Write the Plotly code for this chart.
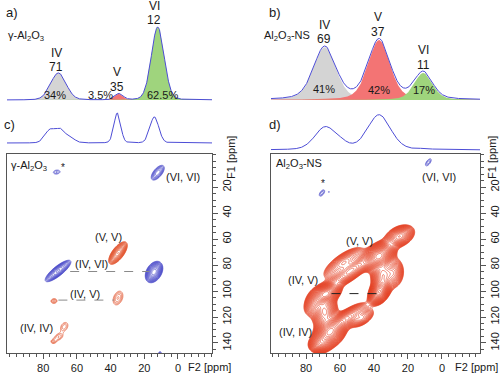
import numpy as np
import plotly.graph_objects as go

W, H = 500, 375
FONT = "Liberation Sans, Arial, sans-serif"

# ---------------- 1D spectra (peak centre ppm, height, sigma ppm, lorentz fraction)
a_sites = ["IV", "V", "VI"]
a_shift_labels = ["71", "35", "12"]
a_percent = ["34%", "3.5%", "62.5%"]
a_center = [71, 35, 12]
a_height = [0.37, 0.085, 1.0]
a_sigma = [4.6, 2.4, 3.8]
a_eta = [0.12, 0.12, 0.12]

b_sites = ["IV", "V", "VI"]
b_shift_labels = ["69", "37", "11"]
b_percent = ["41%", "42%", "17%"]
b_center = [69, 37, 11]
b_height = [0.88, 1.0, 0.45]
b_sigma = [6.6, 6.4, 5.4]
b_eta = [0.35, 0.35, 0.35]

# projections on top of the 2D maps
c_proj_center = [76, 69.5, 63, 36, 14]
c_proj_height = [0.42, 0.43, 0.12, 1.0, 0.87]
c_proj_sigma = [3.0, 3.0, 2.5, 2.0, 2.6]
d_proj_center = [69, 60, 37, 10]
d_proj_height = [0.62, 0.15, 1.0, 0.03]
d_proj_sigma = [6.0, 5.0, 6.8, 3.0]

# ---------------- 2D DQ-SQ peaks: F2, F1, sigma along, sigma across, slope (dF1/dF2), amplitude
c_pos_f2 = [12, 71.2, 14.2, 72, 11]
c_pos_f1 = [9, 84.6, 85.4, 8.5, 151]
c_pos_sa = [4.2, 5.6, 4.0, 2.4, 3.0]
c_pos_sp = [1.8, 1.7, 2.2, 1.8, 1.0]
c_pos_slope = [1.8, 1.1, 3.0, 0.3, 10]
c_pos_amp = [0.22, 0.45, 0.7, 0.1, 0.2]

c_neg_f2 = [35.6, 35.6, 73.6, 67.5, 71, 74]
c_neg_f1 = [70.8, 105.4, 107.7, 127.5, 135.5, 139]
c_neg_sa = [4.2, 4.6, 1.8, 3.6, 2.6, 1.5]
c_neg_sp = [1.6, 2.3, 1.7, 2.1, 2.0, 1.4]
c_neg_slope = [1.9, 4.0, 1.0, 3.0, 1.0, 1.0]
c_neg_amp = [1.0, 0.14, 0.12, 0.11, 0.11, 0.095]

# Al2O3-NS: correlation nodes, outer shoulders, ridges round the central hole
d_neg_f2 = [37, 68, 37, 66, 25, 72,
            75, 58, 28, 47,
            54, 35, 56, 69]
d_neg_f1 = [73, 102, 101, 132, 58, 141,
            108, 78, 86, 121,
            85, 88, 121, 116]
d_neg_sa = [5.5, 4.5, 4.5, 6.0, 5.0, 3.5,
            6.0, 8.0, 6.0, 5.0,
            9.0, 7.0, 8.0, 7.0]
d_neg_sp = [3.5, 3.0, 2.6, 3.8, 3.4, 3.2,
            3.0, 3.0, 3.0, 2.6,
            2.9, 3.4, 2.8, 3.7]
d_neg_slope = [1.5, 1.0, 3.0, 2.0, 1.0, 2.0,
               3.0, 1.0, 20, 1.0,
               1.0, 20, 1.0, 20]
d_neg_amp = [1.0, 0.85, 0.75, 0.95, 0.45, 0.35,
             0.25, 0.3, 0.25, 0.2,
             0.42, 0.38, 0.36, 0.42]

d_pos_f2 = [8, 70.6, 66.5]
d_pos_f1 = [1, 24.6, 23.8]
d_pos_sa = [2.8, 2.5, 0.6]
d_pos_sp = [1.1, 1.1, 0.6]
d_pos_slope = [2.0, 2.0, 1.0]
d_pos_amp = [0.18, 0.18, 0.12]

# connectors (F1 level, F2 from, F2 to)
c_links = [(85, 64, 17), (107, 71, 38)]
d_links = [(102, 65, 35)]

# axis ticks
f2_ticks = [0, 20, 40, 60, 80]
f1_ticks = [20, 40, 60, 80, 100, 120, 140]

# ---------------- styles
BLUE_LINE = "#4d4dd6"
BLUE_CT = "#3d3dc4"
RED_CT_C = "#e0502a"
RED_CT_D = "#e23a1c"
FILLS = ["#d4d4d4", "#f37474", "#9fd47d"]
TXT = "#1a1a1a"

XR_C = [101.5, -20.2]
XR_D = [100.6, -22.4]
YR_2D = [147.7, -5.4]


def pv(x, c, h, s, eta):
    hw = 1.1774 * s
    return h * ((1 - eta) * np.exp(-0.5 * ((x - c) / s) ** 2) + eta / (1 + ((x - c) / hw) ** 2))


def field(F2, F1, f2s, f1s, sas, sps, slopes, amps):
    Z = np.zeros_like(F2)
    for f2, f1, sa, sp, sl, am in zip(f2s, f1s, sas, sps, slopes, amps):
        d0, d1 = 1.0, sl
        n = np.hypot(d0, d1)
        d0, d1 = d0 / n, d1 / n
        u = (F2 - f2) * d0 + (F1 - f1) * d1
        v = -(F2 - f2) * d1 + (F1 - f1) * d0
        Z += am * np.exp(-0.5 * (u / sa) ** 2 - 0.5 * (v / sp) ** 2)
    return Z


def px(x):
    return x / W


def py(y):
    return 1 - y / H


fig = go.Figure()
xs = np.linspace(-23, 102, 1200)

# ---- panel a
tot = np.zeros_like(xs)
for i in range(3):
    comp = pv(xs, a_center[i], a_height[i], a_sigma[i], a_eta[i])
    tot += comp
    fig.add_trace(go.Scatter(x=xs, y=comp, xaxis="x", yaxis="y", mode="lines",
                             line=dict(width=0), fill="tozeroy", fillcolor=FILLS[i], hoverinfo="skip"))
fig.add_trace(go.Scatter(x=xs, y=tot, xaxis="x", yaxis="y", mode="lines",
                         line=dict(color=BLUE_LINE, width=1), hoverinfo="skip"))

# ---- panel b
tot = np.zeros_like(xs)
for i in range(3):
    comp = pv(xs, b_center[i], b_height[i], b_sigma[i], b_eta[i])
    tot += comp
    fig.add_trace(go.Scatter(x=xs, y=comp, xaxis="x2", yaxis="y2", mode="lines",
                             line=dict(width=0), fill="tozeroy", fillcolor=FILLS[i], hoverinfo="skip"))
fig.add_trace(go.Scatter(x=xs, y=tot, xaxis="x2", yaxis="y2", mode="lines",
                         line=dict(color=BLUE_LINE, width=1), hoverinfo="skip"))

# ---- projections
proj_c = sum(pv(xs, c, h, s, 0.1) for c, h, s in zip(c_proj_center, c_proj_height, c_proj_sigma))
fig.add_trace(go.Scatter(x=xs, y=proj_c, xaxis="x3", yaxis="y3", mode="lines",
                         line=dict(color=BLUE_LINE, width=1), hoverinfo="skip"))
proj_d = sum(pv(xs, c, h, s, 0.25) for c, h, s in zip(d_proj_center, d_proj_height, d_proj_sigma))
fig.add_trace(go.Scatter(x=xs, y=proj_d, xaxis="x4", yaxis="y4", mode="lines",
                         line=dict(color=BLUE_LINE, width=1), hoverinfo="skip"))

# ---- 2D maps
f2g = np.arange(-24, 104, 0.4)
f1g = np.arange(-8, 156, 0.4)
F2, F1 = np.meshgrid(f2g, f1g)


def add_contour(Z, xa, ya, color, thr, factor, width=0.6):
    Zl = np.round(np.log10(Z + 1e-9), 3)
    fig.add_trace(go.Contour(x=f2g, y=f1g, z=Zl, xaxis=xa, yaxis=ya,
                             contours=dict(start=np.log10(thr), end=0.2, size=np.log10(factor), coloring="none"),
                             line=dict(color=color, width=width), showscale=False, hoverinfo="skip"))


add_contour(field(F2, F1, c_pos_f2, c_pos_f1, c_pos_sa, c_pos_sp, c_pos_slope, c_pos_amp),
            "x5", "y5", BLUE_CT, 0.07, 1.18)
add_contour(field(F2, F1, c_neg_f2, c_neg_f1, c_neg_sa, c_neg_sp, c_neg_slope, c_neg_amp),
            "x5", "y5", RED_CT_C, 0.07, 1.18)
add_contour(field(F2, F1, d_neg_f2, d_neg_f1, d_neg_sa, d_neg_sp, d_neg_slope, d_neg_amp),
            "x6", "y6", RED_CT_D, 0.05, 1.1)
add_contour(field(F2, F1, d_pos_f2, d_pos_f1, d_pos_sa, d_pos_sp, d_pos_slope, d_pos_amp),
            "x6", "y6", BLUE_CT, 0.1, 1.25)

for f1, a, b in c_links:
    fig.add_trace(go.Scatter(x=[a, b], y=[f1, f1], xaxis="x5", yaxis="y5", mode="lines",
                             line=dict(color="#8a8a8a", width=1, dash="dash"), hoverinfo="skip"))
for f1, a, b in d_links:
    fig.add_trace(go.Scatter(x=[a, b], y=[f1, f1], xaxis="x6", yaxis="y6", mode="lines",
                             line=dict(color="#222222", width=1, dash="dash"), hoverinfo="skip"))

# ---------------- axes
hidden = dict(visible=False, showgrid=False, zeroline=False)
dom_cx = [px(7), px(212)]
dom_dx = [px(271), px(480)]
lay = dict(
    xaxis=dict(hidden, domain=dom_cx, range=XR_C, anchor="y"),
    yaxis=dict(hidden, domain=[py(103), py(22)], range=[-0.041, 1.068], anchor="x"),
    xaxis2=dict(hidden, domain=dom_dx, range=XR_D, anchor="y2"),
    yaxis2=dict(hidden, domain=[py(103), py(22)], range=[-0.05, 1.3], anchor="x2"),
    xaxis3=dict(hidden, domain=dom_cx, range=XR_C, anchor="y3"),
    yaxis3=dict(hidden, domain=[py(150), py(110)], range=[-0.233, 1.1], anchor="x3"),
    xaxis4=dict(hidden, domain=dom_dx, range=XR_D, anchor="y4"),
    yaxis4=dict(hidden, domain=[py(152), py(110)], range=[-0.057, 1.143], anchor="x4"),
)


def ax2d(dom, rng, anchor, vals, minor_dt, side=None, angle=None, standoff=0):
    d = dict(domain=dom, range=rng, anchor=anchor, tickmode="array", tickvals=vals,
             ticks="outside", ticklen=5, tickwidth=1, tickcolor="#555",
             minor=dict(tick0=0, dtick=minor_dt, ticks="outside", ticklen=3, tickcolor="#555", tickwidth=1),
             showline=True, mirror=True, linecolor="#555", linewidth=1,
             showgrid=False, zeroline=False, ticklabelstandoff=standoff,
             tickfont=dict(family=FONT, size=11, color=TXT))
    if side:
        d["side"] = side
    if angle is not None:
        d["tickangle"] = angle
    return d


dom_y2d = [py(353), py(154)]
lay["xaxis5"] = ax2d(dom_cx, XR_C, "y5", f2_ticks, 4, standoff=0)
lay["yaxis5"] = ax2d(dom_y2d, YR_2D, "x5", f1_ticks, 5, side="right", angle=-90)
lay["xaxis6"] = ax2d(dom_dx, XR_D, "y6", f2_ticks, 4, standoff=0)
lay["yaxis6"] = ax2d(dom_y2d, YR_2D, "x6", f1_ticks, 5, side="right", angle=-90)

anns = []


def ann(text, x, y, size=11.5, xanchor="center", angle=0):
    anns.append(dict(text=text, x=px(x), y=py(y), xref="paper", yref="paper", showarrow=False,
                     xanchor=xanchor, yanchor="middle", textangle=angle,
                     font=dict(family=FONT, size=size, color=TXT)))


# panel letters
ann("a)", 4, 13, 13, "left")
ann("b)", 267, 13, 13, "left")
ann("c)", 2, 125, 13, "left")
ann("d)", 267, 125, 13, "left")

# panel a labels
ann("γ-Al<sub>2</sub>O<sub>3</sub>", 6, 36, 11, "left")
for (x, y1, y2), s, v in zip([(56, 53, 67), (117, 72, 87), (154, 6, 20)], a_sites, a_shift_labels):
    ann(s, x, y1, 12)
    ann(v, x, y2, 12)
for (x, y), t in zip([(55, 95), (100, 95), (162, 95)], a_percent):
    ann(t, x, y, 11)

# panel b labels
ann("Al<sub>2</sub>O<sub>3</sub>-NS", 262, 36, 11, "left")
for (x, y1, y2), s, v in zip([(324, 25, 39), (378, 17, 32), (423, 50, 65)], b_sites, b_shift_labels):
    ann(s, x, y1, 12)
    ann(v, x, y2, 12)
for (x, y), t in zip([(324, 89), (379, 90), (424, 90)], b_percent):
    ann(t, x, y, 11)

# panel c labels
ann("γ-Al<sub>2</sub>O<sub>3</sub>", 9, 166, 11, "left")
ann("*", 63, 168, 10)
ann("(VI, VI)", 183, 177, 11)
ann("(V, V)", 108, 237, 11)
ann("(IV, VI)", 91, 264, 11)
ann("(IV, V)", 85, 294, 11)
ann("(IV, IV)", 36, 328, 11)
ann("F1 [ppm]", 231, 158, 11, angle=-90)
ann("F2 [ppm]", 209, 367, 11)

# panel d labels
ann("Al<sub>2</sub>O<sub>3</sub>-NS", 274, 164, 11, "left")
ann("*", 323, 184, 10)
ann("(VI, VI)", 439, 177, 11)
ann("(V, V)", 359, 241, 11)
ann("(IV, V)", 303, 280, 11)
ann("(IV, IV)", 295, 332, 11)
ann("F1 [ppm]", 492, 158, 11, angle=-90)
ann("F2 [ppm]", 476, 367, 11)

fig.update_layout(
    width=W, height=H, margin=dict(l=0, r=0, t=0, b=0),
    paper_bgcolor="white", plot_bgcolor="rgba(0,0,0,0)", showlegend=False,
    annotations=anns, font=dict(family=FONT), **lay)

fig.write_html("out.html", config={"displayModeBar": False},
               post_script="document.body.style.margin='0';document.body.style.overflow='hidden';")
